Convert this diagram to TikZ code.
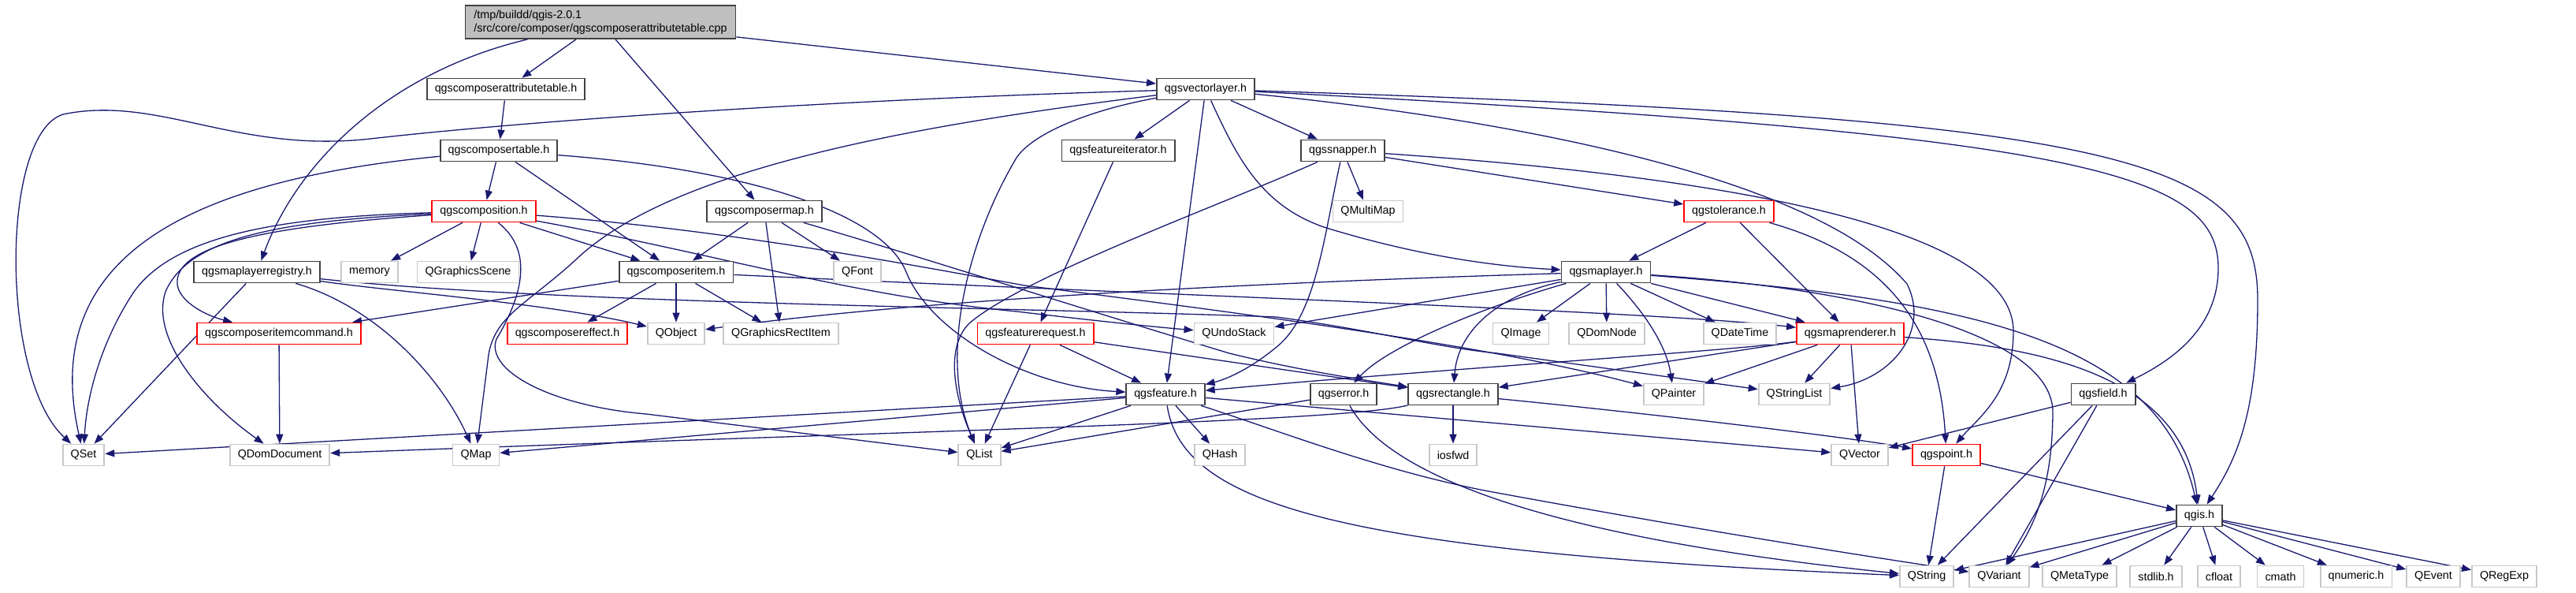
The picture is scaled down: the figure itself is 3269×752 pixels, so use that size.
\documentclass[tikz,border=0pt]{standalone}
\usepackage{fontspec}
\setmainfont{Liberation Sans}
\usepackage{xcolor}
\usepackage{tikz}
\usetikzlibrary{arrows.meta,backgrounds}
\definecolor{midblue}{HTML}{191970}
\definecolor{hdrgray}{HTML}{BFBFBF}
\definecolor{darkline}{HTML}{404040}
\definecolor{sysline}{HTML}{C8C8C8}

\begin{document}
\begin{tikzpicture}[x=1pt, y=-1pt,
    hbox/.style={rectangle, draw=darkline, line width=1.8pt, fill=white, minimum height=27pt, inner xsep=10pt, inner ysep=0pt, font=\fontsize{14.3}{17}\selectfont},
    redbox/.style={hbox, draw=red},
    sysbox/.style={hbox, draw=sysline},
    rootbox/.style={hbox, fill=hdrgray, align=left, minimum height=42pt, inner xsep=11pt},
    arr/.style={draw=midblue, line width=1.3pt, -{Triangle[length=12pt, width=9pt]}},
]
\useasboundingbox (0,0) rectangle (3269,752);
% Nodes
\node[rootbox] (cpp)      at (762,28)  {/tmp/buildd/qgis-2.0.1\\/src/core/composer/qgscomposerattributetable.cpp};
\node[hbox]    (attrtab)  at (642,113) {qgscomposerattributetable.h};
\node[hbox]    (vlayer)   at (1530,113){qgsvectorlayer.h};
\node[hbox]    (comptab)  at (633,191) {qgscomposertable.h};
\node[hbox]    (fiter)    at (1419,191){qgsfeatureiterator.h};
\node[hbox]    (snapper)  at (1704,191){qgssnapper.h};
\node[redbox]  (comp)     at (614,268) {qgscomposition.h};
\node[hbox]    (cmap)     at (970,268) {qgscomposermap.h};
\node[sysbox]  (qmmap)    at (1736,268){QMultiMap};
\node[redbox]  (tol)      at (2194,268){qgstolerance.h};
\node[hbox]    (mlreg)    at (326,345) {qgsmaplayerregistry.h};
\node[sysbox]  (memory)   at (469,345) {memory};
\node[sysbox]  (gscene)   at (594,345) {QGraphicsScene};
\node[hbox]    (citem)    at (858,345) {qgscomposeritem.h};
\node[sysbox]  (qfont)    at (1088,345){QFont};
\node[hbox]    (mlayer)   at (2038,345){qgsmaplayer.h};
\node[redbox]  (citemcmd) at (354,423) {qgscomposeritemcommand.h};
\node[redbox]  (ceffect)  at (720,423) {qgscomposereffect.h};
\node[sysbox]  (qobject)  at (858,423) {QObject};
\node[sysbox]  (grect)    at (991,423) {QGraphicsRectItem};
\node[redbox]  (freq)     at (1314,423){qgsfeaturerequest.h};
\node[sysbox]  (qundo)    at (1566,423){QUndoStack};
\node[sysbox]  (qimage)   at (1930,423){QImage};
\node[sysbox]  (qdomnode) at (2039,423){QDomNode};
\node[sysbox]  (qdatetime) at (2208,423){QDateTime};
\node[redbox]  (mrend)    at (2348,423){qgsmaprenderer.h};
\node[hbox]    (feature)  at (1479,500){qgsfeature.h};
\node[hbox]    (qerror)   at (1705,500){qgserror.h};
\node[hbox]    (rect)     at (1844,500){qgsrectangle.h};
\node[sysbox]  (qpainter) at (2124,500){QPainter};
\node[sysbox]  (qstrlist) at (2277,500){QStringList};
\node[hbox]    (field)    at (2669,500){qgsfield.h};
\node[sysbox]  (qset)     at (106,577) {QSet};
\node[sysbox]  (qdomdoc)  at (355,577) {QDomDocument};
\node[sysbox]  (qmap)     at (604,577) {QMap};
\node[sysbox]  (qlist)    at (1243,577){QList};
\node[sysbox]  (qhash)    at (1548,577){QHash};
\node[sysbox]  (iosfwd)   at (1844,577){iosfwd};
\node[sysbox]  (qvector)  at (2360,577){QVector};
\node[redbox]  (point)    at (2470,577){qgspoint.h};
\node[hbox]    (qgis)     at (2791,654){qgis.h};
\node[sysbox]  (qstring)  at (2445,731){QString};
\node[sysbox]  (qvariant) at (2537,731){QVariant};
\node[sysbox]  (qmetatype) at (2639,731){QMetaType};
\node[sysbox]  (stdlib)   at (2736,731){stdlib.h};
\node[sysbox]  (cfloat)   at (2816,731){cfloat};
\node[sysbox]  (cmath)    at (2894,731){cmath};
\node[sysbox]  (qnumeric) at (2990,731){qnumeric.h};
\node[sysbox]  (qevent)   at (3088,731){QEvent};
\node[sysbox]  (qregexp)  at (3178,731){QRegExp};
% Connections (behind the boxes)
\begin{scope}[on background layer]
\draw[arr] (cpp) -- (attrtab);
\draw[arr] (cpp) -- (vlayer);
\draw[arr] (cpp) -- (cmap);
\draw[arr] (cpp) .. controls (500,90) and (380,200) .. (mlreg);
\draw[arr] (attrtab) -- (comptab);
\draw[arr] (comptab) -- (comp);
\draw[arr] (comptab) -- (citem);
\draw[arr] (comptab) .. controls (230,230) and (50,330) .. (qset);
\draw[arr] (comptab) .. controls (950,215) and (1120,270) .. (1150,345) .. controls (1180,420) and (1300,490) .. (feature);
% qgsvectorlayer.h
\draw[arr] (vlayer) .. controls (1100,125) and (700,150) .. (470,176) .. controls (300,195) and (200,120) .. (80,145) .. controls (0,170) and (0,480) .. (qset);
\draw[arr] (vlayer) -- (fiter);
\draw[arr] (vlayer) .. controls (1150,160) and (850,215) .. (730,330) .. controls (670,385) and (628,400) .. (620,450) -- (qmap);
\draw[arr] (vlayer) .. controls (1380,140) and (1310,170) .. (1290,200) .. controls (1230,300) and (1190,450) .. (qlist);
\draw[arr] (vlayer) -- (feature);
\draw[arr] (vlayer) -- (snapper);
\draw[arr] (vlayer) .. controls (1570,200) and (1600,260) .. (1680,288) .. controls (1800,325) and (1900,338) .. (mlayer);
\draw[arr] (vlayer) .. controls (1900,150) and (2300,220) .. (2420,360) .. controls (2450,420) and (2400,480) .. (qstrlist);
\draw[arr] (vlayer) .. controls (2650,170) and (2815,220) .. (2815,340) .. controls (2815,420) and (2750,460) .. (field);
\draw[arr] (vlayer) .. controls (2700,150) and (2865,200) .. (2865,380) .. controls (2865,520) and (2840,580) .. (qgis);
% composer headers
\draw[arr] (fiter) -- (freq);
\draw[arr] (cmap) -- (citem);
\draw[arr] (cmap) -- (qfont);
\draw[arr] (cmap) -- (grect);
\draw[arr] (cmap) .. controls (1150,320) and (1400,400) .. (1560,448) .. controls (1650,470) and (1720,480) .. (rect);
\draw[arr] (comp) -- (memory);
\draw[arr] (comp) -- (gscene);
\draw[arr] (comp) -- (citem);
\draw[arr] (comp) .. controls (350,275) and (220,300) .. (170,370) .. controls (130,430) and (110,500) .. (qset);
\draw[arr] (comp) .. controls (360,280) and (240,300) .. (210,370) .. controls (190,430) and (260,510) .. (qdomdoc);
\draw[arr] (comp) .. controls (370,285) and (230,305) .. (225,355) .. controls (222,380) and (260,400) .. (citemcmd);
\draw[arr] (comp) .. controls (680,320) and (660,380) .. (630,430) .. controls (615,470) and (700,515) .. (820,525) -- (qlist);
\draw[arr] (comp) .. controls (900,320) and (1080,375) .. (1290,395) .. controls (1400,408) and (1470,415) .. (qundo);
\draw[arr] (comp) .. controls (900,290) and (1100,325) .. (1300,362) .. controls (1600,400) and (1900,440) .. (qpainter);
\draw[arr] (citem) -- (citemcmd);
\draw[arr] (citem) -- (ceffect);
\draw[arr] (citem) -- (qobject);
\draw[arr] (citem) -- (grect);
\draw[arr] (citem) .. controls (1500,375) and (2100,395) .. (mrend);
\draw[arr] (mlreg) -- (qset);
\draw[arr] (mlreg) .. controls (480,390) and (560,480) .. (qmap);
\draw[arr] (mlreg) .. controls (500,370) and (700,385) .. (qobject);
\draw[arr] (mlreg) .. controls (700,385) and (1300,390) .. (1620,402) .. controls (1750,420) and (1820,440) .. (1900,448) -- (qstrlist);
\draw[arr] (citemcmd) -- (qdomdoc);
\draw[arr] (freq) -- (feature);
\draw[arr] (freq) -- (qlist);
\draw[arr] (freq) -- (rect);
% qgssnapper.h and qgstolerance.h
\draw[arr] (snapper) -- (qmmap);
\draw[arr] (snapper) -- (tol);
\draw[arr] (snapper) .. controls (1550,260) and (1300,350) .. (1230,410) .. controls (1200,440) and (1210,500) .. (qlist);
\draw[arr] (snapper) .. controls (1680,300) and (1670,400) .. (1620,440) .. controls (1590,465) and (1560,480) .. (feature);
\draw[arr] (snapper) .. controls (2200,225) and (2555,290) .. (2555,420) .. controls (2555,500) and (2510,530) .. (point);
\draw[arr] (tol) -- (mlayer);
\draw[arr] (tol) -- (mrend);
\draw[arr] (tol) .. controls (2380,320) and (2460,400) .. (point);
% qgsmaplayer.h
\draw[arr] (mlayer) .. controls (1700,355) and (1200,375) .. (qobject);
\draw[arr] (mlayer) -- (qundo);
\draw[arr] (mlayer) -- (qimage);
\draw[arr] (mlayer) -- (qdomnode);
\draw[arr] (mlayer) -- (qdatetime);
\draw[arr] (mlayer) .. controls (2090,400) and (2115,440) .. (qpainter);
\draw[arr] (mlayer) -- (mrend);
\draw[arr] (mlayer) .. controls (1880,390) and (1760,440) .. (qerror);
\draw[arr] (mlayer) .. controls (1900,375) and (1850,420) .. (rect);
\draw[arr] (mlayer) .. controls (2350,365) and (2600,420) .. (2605,520) .. controls (2605,620) and (2580,670) .. (qvariant);
\draw[arr] (mlayer) .. controls (2500,380) and (2740,430) .. (qgis);
% qgsmaprenderer.h
\draw[arr] (mrend) .. controls (2200,445) and (1800,470) .. (feature);
\draw[arr] (mrend) -- (rect);
\draw[arr] (mrend) -- (qpainter);
\draw[arr] (mrend) -- (qstrlist);
\draw[arr] (mrend) -- (qvector);
\draw[arr] (mrend) .. controls (2600,440) and (2770,480) .. (qgis);
% qgsfeature.h
\draw[arr] (feature) -- (qset);
\draw[arr] (feature) -- (qmap);
\draw[arr] (feature) -- (qlist);
\draw[arr] (feature) -- (qhash);
\draw[arr] (feature) -- (qvector);
\draw[arr] (feature) .. controls (1500,640) and (1700,700) .. (qstring);
\draw[arr] (feature) .. controls (1620,545) and (1760,600) .. (1900,625) .. controls (2200,680) and (2400,710) .. (qvariant);
% qgserror.h, qgsrectangle.h, qgsfield.h, qgspoint.h
\draw[arr] (qerror) -- (qlist);
\draw[arr] (qerror) .. controls (1760,600) and (1950,680) .. (qstring);
\draw[arr] (rect) -- (iosfwd);
\draw[arr] (rect) .. controls (1700,535) and (1200,545) .. (qdomdoc);
\draw[arr] (rect) .. controls (2100,525) and (2350,555) .. (point);
\draw[arr] (field) -- (qvector);
\draw[arr] (field) -- (qstring);
\draw[arr] (field) -- (qvariant);
\draw[arr] (point) -- (qstring);
\draw[arr] (point) -- (qgis);
% qgis.h
\draw[arr] (qgis) -- (qstring);
\draw[arr] (qgis) -- (qvariant);
\draw[arr] (qgis) -- (qmetatype);
\draw[arr] (qgis) -- (stdlib);
\draw[arr] (qgis) -- (cfloat);
\draw[arr] (qgis) -- (cmath);
\draw[arr] (qgis) -- (qnumeric);
\draw[arr] (qgis) -- (qevent);
\draw[arr] (qgis) -- (qregexp);
\end{scope}
\end{tikzpicture}
\end{document}
